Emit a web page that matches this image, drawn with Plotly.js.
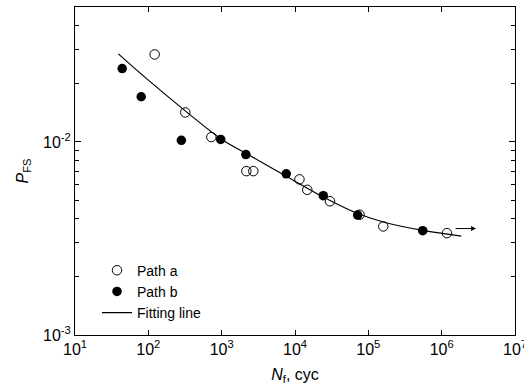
<!DOCTYPE html>
<html>
<head>
<meta charset="utf-8">
<script src="https://cdn.plot.ly/plotly-3.0.1.min.js"></script>
<style>html,body{margin:0;padding:0;background:#fff;}#chart{width:524px;height:389px;}</style>
</head>
<body>
<div id="chart"></div>
<script>
// Path a (open circles)
const pathA_N = [122, 319, 723, 2170, 2700, 11500, 14700, 30000, 76000, 160000, 1180000];
const pathA_P = [0.0284, 0.01422, 0.0106, 0.00706, 0.00706, 0.0064, 0.00565, 0.00493, 0.0042, 0.00365, 0.00337];
// Path b (filled circles)
const pathB_N = [44, 80, 282, 970, 2140, 7600, 24300, 71600, 552000];
const pathB_P = [0.0240, 0.01714, 0.0102, 0.0103, 0.0086, 0.00684, 0.00527, 0.00418, 0.00347];
// Fitting line
const fit_N = [39, 100, 319, 970, 2140, 7600, 24300, 71600, 160000, 552000, 1850000];
const fit_P = [0.0286, 0.0209, 0.01449, 0.0104, 0.00873, 0.00665, 0.00519, 0.00426, 0.00385, 0.00348, 0.00325];

const xTickVals = [1e1, 1e2, 1e3, 1e4, 1e5, 1e6, 1e7];
const xTickText = ['10<sup>1</sup>','10<sup>2</sup>','10<sup>3</sup>','10<sup>4</sup>','10<sup>5</sup>','10<sup>6</sup>','10<sup>7</sup>'];
const yTickVals = [1e-3, 1e-2];
const yTickText = ['10<sup>-3</sup>','10<sup>-2</sup>'];

const yMinor = [];
[1e-3, 1e-2].forEach(d => { for (let k = 2; k <= 9; k++) { const v = k * d; if (v <= 0.05) yMinor.push(v); } });

const FONT = 'Liberation Sans, Arial, sans-serif';

const traces = [
  {x: pathA_N, y: pathA_P, mode: 'markers', type: 'scatter', name: 'Path a',
   marker: {symbol: 'circle-open', size: 9.5, color: '#000', line: {width: 1, color: '#000'}}},
  {x: pathB_N, y: pathB_P, mode: 'markers', type: 'scatter', name: 'Path b',
   marker: {symbol: 'circle', size: 9.5, color: '#000'}},
  {x: fit_N, y: fit_P, mode: 'lines', type: 'scatter', name: 'Fitting line',
   line: {color: '#000', width: 1.2, shape: 'spline', smoothing: 1}}
];

const layout = {
  width: 524, height: 389,
  margin: {l: 75, r: 9, t: 7, b: 54},
  paper_bgcolor: '#fff', plot_bgcolor: '#fff',
  font: {family: FONT, color: '#000', size: 14},
  showlegend: true,
  legend: {x: 0.05, y: 0.245, xanchor: 'left', yanchor: 'top', bgcolor: 'rgba(0,0,0,0)',
           font: {family: FONT, size: 14, color: '#000'}, tracegroupgap: 0},
  xaxis: {
    type: 'log', range: [1, 7],
    tickvals: xTickVals, ticktext: xTickText,
    ticks: 'inside', ticklen: 5, tickwidth: 1, tickcolor: '#000',
    showline: true, linecolor: '#000', linewidth: 1, mirror: 'ticks',
    showgrid: false, zeroline: false, ticklabeloverflow: 'allow',
    tickfont: {family: FONT, size: 16, color: '#000'},
    title: {text: '<i>N</i><sub>f</sub>, cyc', font: {family: FONT, size: 16, color: '#000'}, standoff: 11}
  },
  yaxis: {
    type: 'log', range: [-3, Math.log10(0.05)],
    tickvals: yTickVals, ticktext: yTickText,
    ticks: 'inside', ticklen: 6, tickwidth: 1, tickcolor: '#000',
    minor: {tickvals: yMinor, ticks: 'inside', ticklen: 4, tickwidth: 1, tickcolor: '#000', showgrid: false},
    showline: true, linecolor: '#000', linewidth: 1, mirror: 'ticks',
    showgrid: false, zeroline: false, ticklabeloverflow: 'allow',
    tickfont: {family: FONT, size: 16, color: '#000'},
    title: {text: '<i>P</i><sub>FS</sub>', font: {family: FONT, size: 16, color: '#000'}, standoff: 10}
  },
  annotations: [{
    x: Math.log10(2.94e6), y: Math.log10(0.00356), xref: 'x', yref: 'y',
    ax: -22, ay: 0, axref: 'pixel', ayref: 'pixel',
    showarrow: true, arrowhead: 2, arrowsize: 1, arrowwidth: 1, arrowcolor: '#000',
    standoff: 0, startstandoff: 0, text: ''
  }]
};

Plotly.newPlot('chart', traces, layout, {displayModeBar: false, staticPlot: true});
</script>
</body>
</html>
